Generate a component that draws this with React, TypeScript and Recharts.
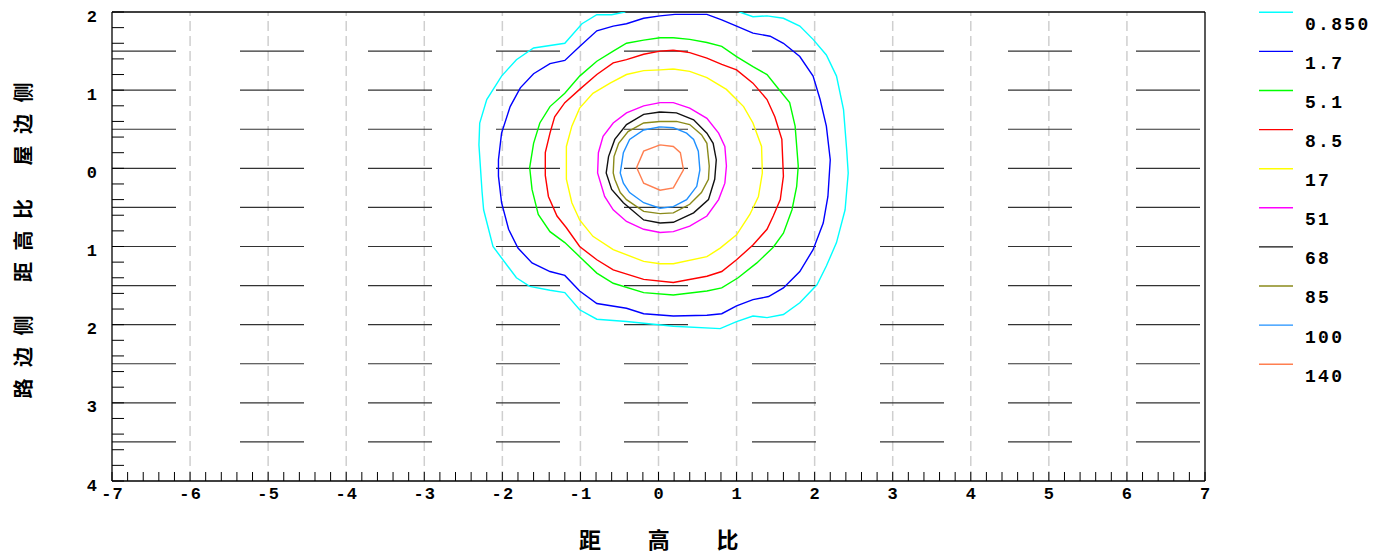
import React from "react";
import {
  LineChart,
  Line,
  XAxis,
  YAxis,
  ReferenceLine,
  Legend,
} from "recharts";

// contour levels and their colours
const levels = ["0.850", "1.7", "5.1", "8.5", "17", "51", "68", "85", "100", "140"];
const colors = [
  "#00ffff",
  "#0000ff",
  "#00ff00",
  "#ff0000",
  "#ffff00",
  "#ff00ff",
  "#111111",
  "#8a8a1a",
  "#1e90ff",
  "#ff7f50",
];

// contour outlines, [x, y]
const c0850 = [
  [-0.43, 2.0], [-0.6, 1.965], [-0.79, 1.965], [-0.98, 1.85], [-1.2, 1.6], [-1.6, 1.54],
  [-1.82, 1.39], [-2.01, 1.18], [-2.2, 0.88], [-2.29, 0.58], [-2.3, 0.3], [-2.28, 0.0],
  [-2.26, -0.3], [-2.24, -0.53], [-2.12, -1.0], [-1.82, -1.4], [-1.65, -1.51], [-1.39, -1.56],
  [-1.2, -1.59], [-1.01, -1.81], [-0.79, -1.93], [-0.41, -1.96], [0.19, -2.02], [0.79, -2.05],
  [1.0, -1.96], [1.21, -1.89], [1.39, -1.91], [1.6, -1.87], [1.81, -1.72], [2.03, -1.49],
  [2.15, -1.25], [2.28, -0.95], [2.39, -0.53], [2.43, -0.06], [2.41, 0.24], [2.37, 0.75],
  [2.28, 1.18], [2.15, 1.45], [1.98, 1.65], [1.81, 1.82], [1.6, 1.92], [1.39, 1.95],
  [1.21, 1.94], [1.04, 2.0], [0.85, 2.1], [-0.3, 2.1], [-0.43, 2.0],
];
const c17 = [
  [0.21, 1.97], [0.02, 1.95], [-0.19, 1.92], [-0.41, 1.85], [-0.58, 1.82], [-0.79, 1.76],
  [-1.01, 1.56], [-1.2, 1.38], [-1.39, 1.34], [-1.6, 1.21], [-1.77, 1.03], [-1.9, 0.79],
  [-2.01, 0.45], [-2.05, 0.11], [-2.05, -0.1], [-2.01, -0.44], [-1.92, -0.78], [-1.8, -1.02],
  [-1.62, -1.21], [-1.39, -1.32], [-1.2, -1.37], [-1.01, -1.57], [-0.79, -1.73], [-0.41, -1.79],
  [-0.19, -1.86], [0.19, -1.89], [0.62, -1.88], [0.81, -1.86], [1.0, -1.76], [1.21, -1.68],
  [1.41, -1.64], [1.6, -1.53], [1.81, -1.32], [1.98, -1.04], [2.11, -0.7], [2.17, -0.36],
  [2.2, 0.11], [2.15, 0.54], [2.07, 0.88], [1.98, 1.18], [1.81, 1.43], [1.6, 1.6],
  [1.43, 1.69], [1.21, 1.73], [1.0, 1.82], [0.81, 1.9], [0.62, 1.97], [0.45, 1.97], [0.21, 1.97],
];
const c51 = [
  [0.19, 1.67], [0.02, 1.67], [-0.19, 1.64], [-0.41, 1.6], [-0.58, 1.5], [-0.79, 1.37],
  [-1.01, 1.18], [-1.2, 0.96], [-1.39, 0.79], [-1.52, 0.58], [-1.6, 0.32], [-1.65, 0.01],
  [-1.62, -0.27], [-1.54, -0.59], [-1.39, -0.81], [-1.2, -0.95], [-1.01, -1.13], [-0.79, -1.34],
  [-0.58, -1.47], [-0.19, -1.59], [0.19, -1.62], [0.62, -1.57], [0.81, -1.53], [1.02, -1.4],
  [1.26, -1.21], [1.47, -1.01], [1.6, -0.83], [1.71, -0.53], [1.77, -0.23], [1.79, 0.03],
  [1.75, 0.54], [1.68, 0.84], [1.51, 1.05], [1.39, 1.2], [1.21, 1.3], [1.0, 1.43],
  [0.81, 1.56], [0.62, 1.61], [0.4, 1.65], [0.19, 1.67],
];
const c85 = [
  [0.19, 1.51], [0.02, 1.5], [-0.19, 1.46], [-0.41, 1.39], [-0.58, 1.35], [-0.79, 1.2],
  [-1.01, 1.01], [-1.2, 0.84], [-1.33, 0.66], [-1.39, 0.45], [-1.45, 0.2], [-1.45, -0.09],
  [-1.41, -0.36], [-1.3, -0.61], [-1.18, -0.76], [-1.01, -1.0], [-0.79, -1.17], [-0.58, -1.3],
  [-0.19, -1.42], [0.19, -1.46], [0.62, -1.38], [0.81, -1.32], [1.0, -1.17], [1.21, -0.98],
  [1.39, -0.78], [1.47, -0.61], [1.56, -0.4], [1.6, -0.1], [1.58, 0.37], [1.49, 0.66],
  [1.39, 0.88], [1.21, 1.09], [1.0, 1.26], [0.81, 1.33], [0.62, 1.41], [0.4, 1.48], [0.19, 1.51],
];
const c170 = [
  [0.19, 1.27], [0.02, 1.26], [-0.19, 1.25], [-0.41, 1.2], [-0.62, 1.09], [-0.84, 0.96],
  [-1.01, 0.77], [-1.11, 0.54], [-1.18, 0.28], [-1.18, -0.02], [-1.18, -0.14], [-1.11, -0.44],
  [-1.01, -0.66], [-0.84, -0.87], [-0.58, -1.04], [-0.19, -1.19], [0.02, -1.22], [0.19, -1.22],
  [0.62, -1.13], [0.79, -1.02], [1.0, -0.85], [1.17, -0.59], [1.28, -0.36], [1.33, -0.06],
  [1.32, 0.28], [1.21, 0.58], [1.09, 0.79], [0.87, 1.01], [0.62, 1.16], [0.4, 1.24], [0.19, 1.27],
];
const c510 = [
  [0.02, 0.84], [-0.19, 0.8], [-0.41, 0.71], [-0.58, 0.58], [-0.71, 0.41], [-0.77, 0.2],
  [-0.78, -0.06], [-0.69, -0.36], [-0.58, -0.53], [-0.41, -0.68], [-0.19, -0.78], [0.02, -0.82],
  [0.19, -0.81], [0.4, -0.74], [0.62, -0.61], [0.77, -0.4], [0.85, -0.19], [0.87, 0.03],
  [0.85, 0.28], [0.77, 0.45], [0.62, 0.64], [0.4, 0.77], [0.19, 0.84], [0.02, 0.84],
];
const c680 = [
  [0.02, 0.72], [-0.19, 0.69], [-0.41, 0.56], [-0.56, 0.37], [-0.64, 0.15], [-0.67, -0.06],
  [-0.6, -0.27], [-0.45, -0.44], [-0.19, -0.66], [0.02, -0.7], [0.19, -0.69], [0.45, -0.57],
  [0.64, -0.4], [0.72, -0.14], [0.74, 0.11], [0.7, 0.32], [0.62, 0.45], [0.45, 0.62],
  [0.23, 0.71], [0.02, 0.72],
];
const c850 = [
  [0.02, 0.6], [-0.19, 0.58], [-0.39, 0.47], [-0.51, 0.32], [-0.57, 0.15], [-0.58, -0.06],
  [-0.56, -0.14], [-0.49, -0.31], [-0.41, -0.4], [-0.19, -0.55], [0.02, -0.58], [0.19, -0.57],
  [0.4, -0.46], [0.55, -0.31], [0.64, -0.14], [0.65, 0.03], [0.62, 0.32], [0.55, 0.43],
  [0.4, 0.56], [0.23, 0.6], [0.02, 0.6],
];
const c1000 = [
  [0.02, 0.53], [-0.19, 0.49], [-0.37, 0.37], [-0.45, 0.2], [-0.49, -0.06], [-0.45, -0.19],
  [-0.37, -0.31], [-0.19, -0.44], [0.02, -0.51], [0.19, -0.49], [0.36, -0.4], [0.49, -0.23],
  [0.53, -0.02], [0.51, 0.22], [0.45, 0.37], [0.36, 0.45], [0.19, 0.52], [0.02, 0.53],
];
const c1400 = [
  [0.02, 0.3], [-0.19, 0.22], [-0.28, 0.01], [-0.19, -0.19], [0.02, -0.28], [0.19, -0.25],
  [0.32, -0.02], [0.28, 0.2], [0.19, 0.28], [0.02, 0.3],
];

const contours = [c0850, c17, c51, c85, c170, c510, c680, c850, c1000, c1400];

// axes
const xLabelTicks = [-7, -6, -5, -4, -3, -2, -1, 0, 1, 2, 3, 4, 5, 6, 7];
const yLabelTicks = [2, 1, 0, -1, -2, -3, -4];
const xTicks = Array.from({ length: 71 }, (_, i) => Math.round((-7 + i * 0.2) * 10) / 10);
const yTicks = Array.from({ length: 31 }, (_, i) => Math.round((-4 + i * 0.2) * 10) / 10);
const vGrid = [-6, -5, -4, -3, -2, -1, 0, 1, 2, 3, 4, 5, 6];
const hGrid = [1.5, 1, 0.5, 0, -0.5, -1, -1.5, -2, -2.5, -3, -3.5];

const xTitle = ["距", "高", "比"];
const yTitle = ["路边侧", "距高比", "屋边侧"];

const monoFont = '"Liberation Mono", "DejaVu Sans Mono", monospace';
const cjkFont = '"Noto Sans CJK SC", sans-serif';

const XTick = (props: any) => {
  const { x, y, payload } = props;
  if (!xLabelTicks.includes(payload.value)) return <g />;
  return (
    <text
      x={x}
      y={y}
      dx={0.6}
      textAnchor="middle"
      dominantBaseline="central"
      fontFamily={monoFont}
      fontWeight="bold"
      fontSize={17}
      letterSpacing={1.2}
      fill="#000"
    >
      {String(payload.value)}
    </text>
  );
};

const YTick = (props: any) => {
  const { x, y, payload } = props;
  if (!yLabelTicks.includes(payload.value)) return <g />;
  return (
    <text
      x={x}
      y={y}
      dy={5}
      textAnchor="end"
      dominantBaseline="central"
      fontFamily={monoFont}
      fontWeight="bold"
      fontSize={17}
      fill="#000"
    >
      {String(Math.abs(payload.value))}
    </text>
  );
};

const XTitle = () => (
  <g>
    {xTitle.map((ch, i) => (
      <text
        key={ch}
        x={590 + i * 68.7}
        y={538}
        textAnchor="middle"
        dominantBaseline="central"
        fontFamily={cjkFont}
        fontWeight="bold"
        fontSize={22}
        fill="#000"
      >
        {ch}
      </text>
    ))}
  </g>
);

const YTitle = () => (
  <g>
    {yTitle.map((s, i) => {
      const cy = 357 - i * 116.5;
      return (
        <text
          key={s}
          x={22}
          y={cy}
          dx={5.75}
          transform={`rotate(-90 22 ${cy})`}
          textAnchor="middle"
          dominantBaseline="central"
          fontFamily={cjkFont}
          fontWeight="bold"
          fontSize={20}
          letterSpacing={11.5}
          fill="#000"
        >
          {s}
        </text>
      );
    })}
  </g>
);

const LegendBox = () => (
  <svg width={137} height={400}>
    {levels.map((lv, i) => (
      <g key={lv}>
        <line
          x1={9}
          x2={43}
          y1={12.3 + i * 39.1}
          y2={12.3 + i * 39.1}
          stroke={colors[i]}
          strokeWidth={1.4}
        />
        <text
          x={55}
          y={24.7 + i * 39.1}
          dominantBaseline="central"
          fontFamily={monoFont}
          fontWeight="bold"
          fontSize={18}
          letterSpacing={2.3}
          fill="#000"
        >
          {lv}
        </text>
      </g>
    ))}
  </svg>
);

export default function App() {
  return (
    <div
      style={{
        position: "absolute",
        left: 0,
        top: 0,
        width: 1387,
        height: 554,
        background: "#fff",
      }}
    >
      <LineChart
        width={1387}
        height={554}
        margin={{ top: 12, right: 182, bottom: 13, left: 12 }}
      >
        <XAxis
          type="number"
          dataKey="x"
          domain={[-7, 7]}
          ticks={xTicks}
          interval={0}
          allowDataOverflow
          height={60}
          tickSize={-9}
          tickMargin={22}
          tick={XTick}
          axisLine={{ stroke: "#000", strokeWidth: 1.3 }}
          tickLine={{ stroke: "#000" }}
          label={{ content: XTitle }}
        />
        <YAxis
          type="number"
          dataKey="y"
          domain={[-4, 2]}
          ticks={yTicks}
          interval={0}
          allowDataOverflow
          width={100}
          tickSize={-12}
          tickMargin={27}
          tick={YTick}
          axisLine={{ stroke: "#000", strokeWidth: 1.3 }}
          tickLine={{ stroke: "#000" }}
          label={{ content: YTitle }}
        />
        {vGrid.map((v) => (
          <ReferenceLine
            key={`v${v}`}
            x={v}
            stroke="#cfcfcf"
            strokeWidth={1.5}
            strokeDasharray="10 5"
          />
        ))}
        {hGrid.map((v) => (
          <ReferenceLine
            key={`h${v}`}
            y={v}
            stroke="#333"
            strokeWidth={1.2}
            strokeDasharray="64 64"
          />
        ))}
        <ReferenceLine y={2} stroke="#000" strokeWidth={1.3} />
        <ReferenceLine x={7} stroke="#000" strokeWidth={1.3} />
        {contours.map((c, i) => (
          <Line
            key={levels[i]}
            name={levels[i]}
            data={c.map(([x, y]) => ({ x, y }))}
            dataKey="y"
            type="linear"
            stroke={colors[i]}
            strokeWidth={1.4}
            dot={false}
            activeDot={false}
            isAnimationActive={false}
          />
        ))}
        <Legend
          layout="vertical"
          align="center"
          verticalAlign="middle"
          wrapperStyle={{ left: 1250, top: 0, width: 137, height: 400 }}
          content={LegendBox}
        />
      </LineChart>
    </div>
  );
}
